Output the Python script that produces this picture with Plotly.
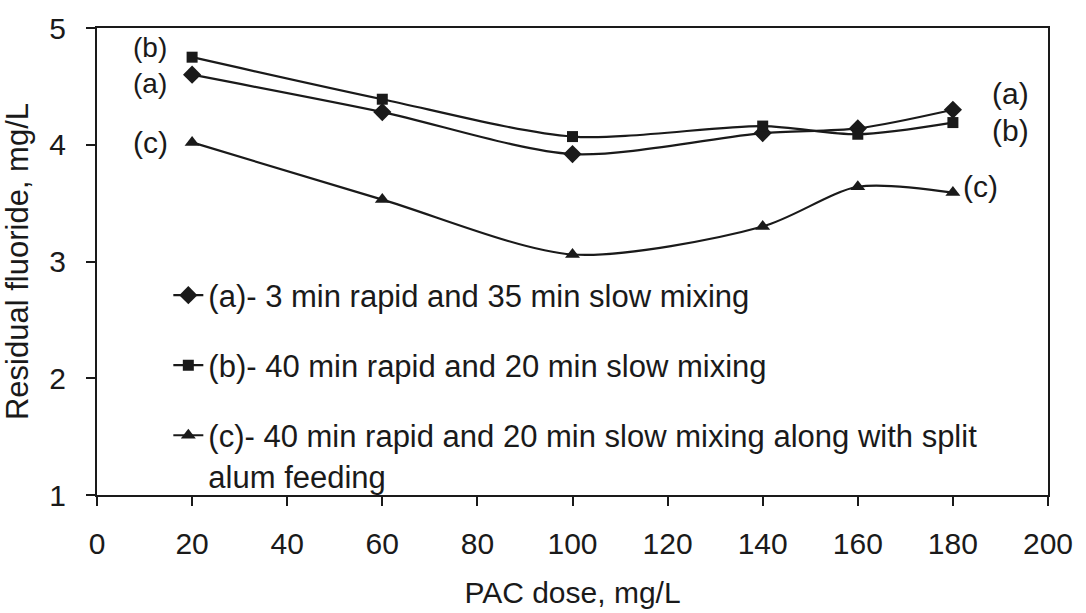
import plotly.graph_objects as go

pac_dose = [20, 60, 100, 140, 160, 180]
series_a = [4.60, 4.28, 3.92, 4.10, 4.14, 4.30]
series_b = [4.75, 4.39, 4.07, 4.16, 4.09, 4.19]
series_c = [4.02, 3.53, 3.06, 3.30, 3.64, 3.59]

names = [
    "(a)- 3 min rapid and 35 min slow mixing",
    "(b)- 40 min rapid and 20 min slow mixing",
    "(c)- 40 min rapid and 20 min slow mixing along with split<br>alum feeding",
]
short = ["(a)", "(b)", "(c)"]
x_ticks = [0, 20, 40, 60, 80, 100, 120, 140, 160, 180, 200]
y_ticks = [1, 2, 3, 4, 5]

FONT = "Liberation Sans, Arial, sans-serif"
INK = "#1a1a1a"
FS = 30
FL = 31

fig = go.Figure()
specs = [
    (series_a, "diamond", 14, "legend"),
    (series_b, "square", 11, "legend2"),
    (series_c, "triangle-up", 13, "legend3"),
]
for (vals, sym, size, leg), nm in zip(specs, names):
    fig.add_trace(go.Scatter(
        x=pac_dose, y=vals, name=nm, mode="lines+markers",
        line=dict(color=INK, width=2.2, shape="spline", smoothing=0.8),
        marker=dict(symbol=sym, size=size, color=INK),
        legend=leg,
    ))

# left-hand labels: (b) stacked over (a), then (c)
fig.add_annotation(
    x=pac_dose[0], y=(series_a[0] + series_b[0]) / 2,
    text=short[1] + "<br>" + short[0], showarrow=False, xshift=-42, yshift=0,
    font=dict(family=FONT, size=28, color=INK),
)
label_specs = [
    (series_c, 0, -42, 0, 2),
    (series_a, -1, 58, 16, 0), (series_b, -1, 58, -8, 1), (series_c, -1, 28, 6, 2),
]
for vals, idx, xs, ys, k in label_specs:
    fig.add_annotation(
        x=pac_dose[idx], y=vals[idx], text=short[k],
        showarrow=False, xshift=xs, yshift=ys,
        font=dict(family=FONT, size=FS, color=INK),
    )

leg_common = dict(
    bgcolor="rgba(0,0,0,0)", borderwidth=0, xanchor="left", yanchor="top",
    font=dict(family=FONT, size=FL, color=INK), itemwidth=30, valign="top",
    tracegroupgap=0,
)
fig.update_layout(
    width=1086, height=613,
    margin=dict(l=97, r=38, t=28, b=118),
    paper_bgcolor="white", plot_bgcolor="white",
    font=dict(family=FONT, size=FS, color=INK),
    showlegend=True,
    legend=dict(x=0.075, y=0.485, **leg_common),
    legend2=dict(x=0.075, y=0.335, **leg_common),
    legend3=dict(x=0.075, y=0.185, **leg_common),
    xaxis=dict(
        range=[0, 200], tickvals=x_ticks, ticks="outside", ticklen=9,
        tickwidth=2, tickcolor=INK, showline=True, linecolor=INK, linewidth=2,
        mirror=True, showgrid=False, zeroline=False, ticklabelstandoff=12,
        automargin=False,
        tickfont=dict(family=FONT, size=FS, color=INK),
        title=dict(text="PAC dose, mg/L", font=dict(family=FONT, size=FS, color=INK), standoff=23),
    ),
    yaxis=dict(
        range=[1, 5], tickvals=y_ticks, ticks="outside", ticklen=9,
        tickwidth=2, tickcolor=INK, showline=True, linecolor=INK, linewidth=2,
        mirror=True, showgrid=False, zeroline=False, ticklabelstandoff=14,
        automargin=False,
        tickfont=dict(family=FONT, size=FS, color=INK),
        title=dict(text="Residual fluoride, mg/L", font=dict(family=FONT, size=FS + 1, color=INK)),
    ),
)
fig.write_html("out.html")
